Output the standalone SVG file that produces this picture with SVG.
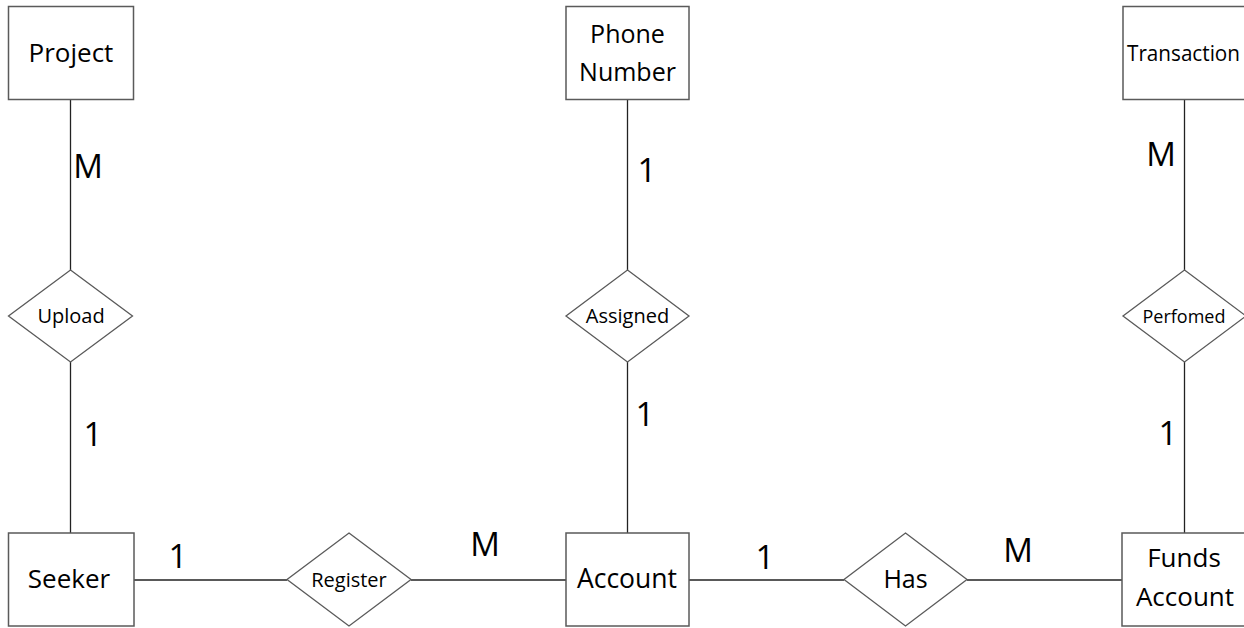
<svg xmlns="http://www.w3.org/2000/svg" width="1244" height="628" viewBox="0 0 1244 628">
<style>
.ent{fill:#fff;stroke:#5a5a5a;stroke-width:1.5}
.rel{fill:#fff;stroke:#5a5a5a;stroke-width:1.3}
.t{font-family:"Open Sans","Liberation Sans",sans-serif;fill:#000;text-anchor:middle}
.lab{font-family:"Open Sans","Liberation Sans",sans-serif;fill:#000;text-anchor:middle;font-size:33px}
#connectors line{stroke:#222;stroke-width:1.3}
</style>
<rect width="1244" height="628" fill="#fff"/>
<g id="connectors">
<line x1="70.5" y1="99" x2="70.5" y2="270"/>
<line x1="70.5" y1="362" x2="70.5" y2="533"/>
<line x1="627.5" y1="99" x2="627.5" y2="270"/>
<line x1="627.5" y1="362" x2="627.5" y2="533"/>
<line x1="1184.5" y1="99" x2="1184.5" y2="270"/>
<line x1="1184.5" y1="362" x2="1184.5" y2="533"/>
<line x1="134" y1="580" x2="287" y2="580"/>
<line x1="411" y1="580" x2="566" y2="580"/>
<line x1="689" y1="580" x2="844" y2="580"/>
<line x1="967" y1="580" x2="1122" y2="580"/>
</g>
<g id="labels">
<text class="lab" x="88" y="178">M</text>
<text class="lab" x="93" y="446">1</text>
<text class="lab" x="647" y="182">1</text>
<text class="lab" x="645" y="426">1</text>
<text class="lab" x="1161" y="166">M</text>
<text class="lab" x="1168" y="445">1</text>
<text class="lab" x="178" y="568">1</text>
<text class="lab" x="485" y="556">M</text>
<text class="lab" x="765" y="569">1</text>
<text class="lab" x="1018" y="562">M</text>
</g>
<g id="project"><rect class="ent" x="8.5" y="6.5" width="125" height="93"/><text class="t" x="71" y="62" font-size="26">Project</text></g>
<g id="phone"><rect class="ent" x="566" y="6.5" width="123" height="93"/><text class="t" x="627.5" y="43" font-size="25">Phone</text><text class="t" x="627.5" y="81" font-size="25">Number</text></g>
<g id="transaction"><rect class="ent" x="1123" y="6.5" width="123" height="93"/><text class="t" x="1183.5" y="61" font-size="21" textLength="113" lengthAdjust="spacingAndGlyphs">Transaction</text></g>
<g id="upload"><polygon class="rel" points="70.5,270 132.5,316 70.5,362 8.5,316"/><text class="t" x="71" y="323" font-size="20">Upload</text></g>
<g id="assigned"><polygon class="rel" points="627.5,270 689,316 627.5,362 566,316"/><text class="t" x="627.5" y="323" font-size="20">Assigned</text></g>
<g id="perfomed"><polygon class="rel" points="1184.5,270 1246,316 1184.5,362 1123,316"/><text class="t" x="1184" y="323" font-size="18">Perfomed</text></g>
<g id="seeker"><rect class="ent" x="8.5" y="533" width="125.5" height="93"/><text class="t" x="69" y="588" font-size="26">Seeker</text></g>
<g id="register"><polygon class="rel" points="349,533 411,579.5 349,626 287,579.5"/><text class="t" x="349" y="587" font-size="20">Register</text></g>
<g id="account"><rect class="ent" x="566" y="533" width="123" height="93"/><text class="t" x="627" y="588" font-size="26.5">Account</text></g>
<g id="has"><polygon class="rel" points="905.5,533 967,579.5 905.5,626 844,579.5"/><text class="t" x="905.5" y="588" font-size="25">Has</text></g>
<g id="funds"><rect class="ent" x="1122" y="533" width="124" height="93"/><text class="t" x="1184" y="567" font-size="26">Funds</text><text class="t" x="1185" y="606" font-size="26">Account</text></g>
</svg>
